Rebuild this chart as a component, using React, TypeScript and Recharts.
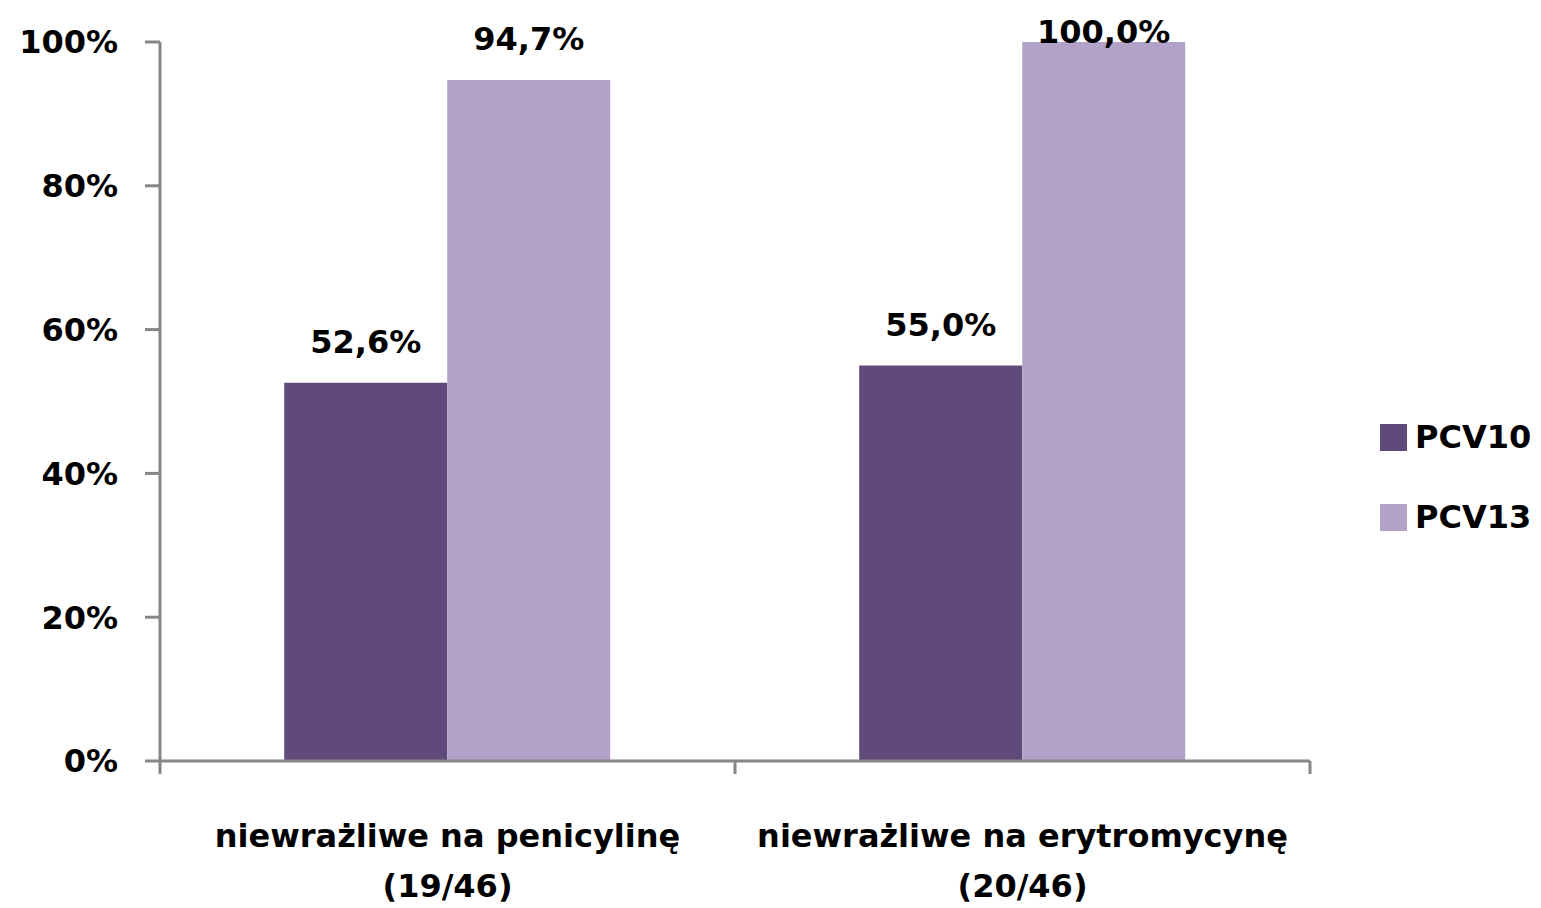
import React from "react";
import {
  BarChart,
  Bar,
  XAxis,
  YAxis,
  Legend,
  LabelList,
} from "recharts";

const categories = ["niewrażliwe na penicylinę", "niewrażliwe na erytromycynę"];
const subLabels = ["(19/46)", "(20/46)"];
const pcv10 = [52.6, 55.0];
const pcv13 = [94.7, 100.0];
const yTicks = [0, 20, 40, 60, 80, 100];

const series = [
  { key: "pcv10", name: "PCV10", color: "#604A7B" },
  { key: "pcv13", name: "PCV13", color: "#B3A2C7" },
];

const data = categories.map((c, i) => ({
  category: c,
  sub: subLabels[i],
  pcv10: pcv10[i],
  pcv13: pcv13[i],
}));

const FONT = "'DejaVu Sans', sans-serif";
const AXIS = "#868686";

// category label plus tick marks on the band edges (Excel style)
function CategoryTick(props: any) {
  const { x, y, payload, index, visibleTicksCount, width } = props;
  const i = categories.indexOf(payload.value);
  const count = visibleTicksCount || categories.length;
  const band =
    typeof width === "number" && width > 0
      ? width / count
      : (payload.offset || 0) * 2;
  const left = x - band / 2;
  const right = x + band / 2;
  return (
    <g>
      <line x1={left} x2={left} y1={y} y2={y + 13} stroke={AXIS} strokeWidth={3} />
      {index === count - 1 && (
        <line x1={right} x2={right} y1={y} y2={y + 13} stroke={AXIS} strokeWidth={3} />
      )}
      <text
        x={x}
        y={y}
        textAnchor="middle"
        fontFamily={FONT}
        fontWeight={700}
        fontSize={32}
        fill="#000"
      >
        <tspan x={x} dy={86}>
          {payload.value}
        </tspan>
        <tspan x={x} dy={50}>
          {subLabels[i]}
        </tspan>
      </text>
    </g>
  );
}

function ValueLabel(props: any) {
  const { x, y, width, value } = props;
  const text = Number(value).toFixed(1).replace(".", ",") + "%";
  return (
    <text
      x={x + width / 2}
      y={Math.max(y - 30, 43)}
      textAnchor="middle"
      fontFamily={FONT}
      fontWeight={700}
      fontSize={32}
      fill="#000"
    >
      {text}
    </text>
  );
}

function LegendBox() {
  return (
    <div style={{ fontFamily: FONT, fontWeight: 700, fontSize: 32 }}>
      {series.map((s) => (
        <div
          key={s.key}
          style={{ display: "flex", alignItems: "center", height: 80 }}
        >
          <div
            style={{
              width: 27,
              height: 27,
              background: s.color,
              marginRight: 8,
            }}
          />
          <span>{s.name}</span>
        </div>
      ))}
    </div>
  );
}

export default function App() {
  return (
    <div style={{ position: "absolute", left: 0, top: 0, background: "#fff" }}>
      <BarChart
        width={1541}
        height={908}
        data={data}
        margin={{ top: 42, right: 231, left: 0, bottom: 0 }}
        barCategoryGap="21.6%"
        barGap={0}
      >
        <XAxis
          dataKey="category"
          height={147}
          axisLine={{ stroke: AXIS, strokeWidth: 3 }}
          tickLine={false}
          tickSize={0}
          tickMargin={0}
          tick={<CategoryTick />}
          interval={0}
        />
        <YAxis
          width={160}
          domain={[0, 100]}
          ticks={yTicks}
          tickFormatter={(v) => `${v}%`}
          axisLine={{ stroke: AXIS, strokeWidth: 3 }}
          tickLine={{ stroke: AXIS, strokeWidth: 3 }}
          tickSize={15}
          tickMargin={27}
          tick={{ fill: "#000", fontSize: 32, fontWeight: 700, fontFamily: FONT }}
        />
        <Legend
          layout="vertical"
          align="center"
          verticalAlign="middle"
          content={<LegendBox />}
          wrapperStyle={{ left: 1380, top: 397, width: 161 }}
        />
        {series.map((s) => (
          <Bar
            key={s.key}
            dataKey={s.key}
            name={s.name}
            fill={s.color}
            isAnimationActive={false}
          >
            <LabelList dataKey={s.key} content={<ValueLabel />} />
          </Bar>
        ))}
      </BarChart>
    </div>
  );
}
